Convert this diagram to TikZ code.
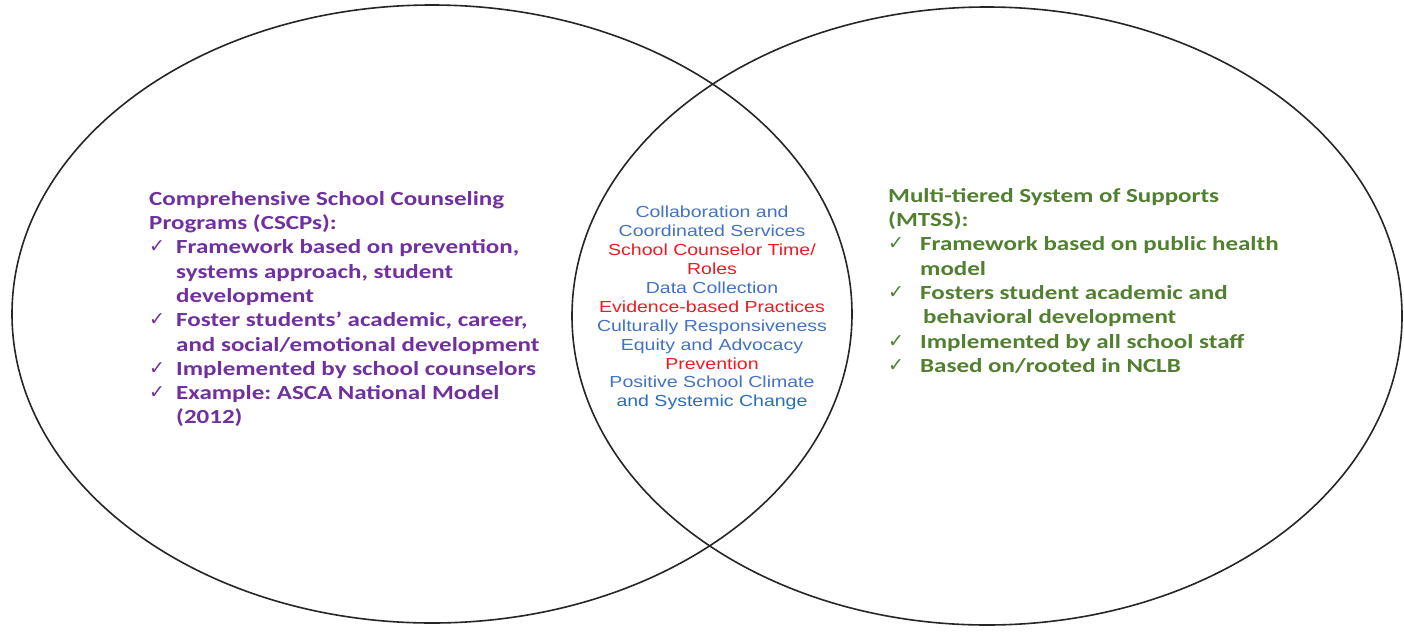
\documentclass[tikz,border=0pt]{standalone}
\usepackage{fontspec}
\usetikzlibrary{shapes.geometric}
\frenchspacing
\newfontfamily\calfont[FakeStretch=1.25]{Carlito}
\newfontfamily\arifont[FakeStretch=1.22]{Liberation Sans}
\newfontfamily\symfont{DejaVu Sans}
\definecolor{cpurple}{RGB}{112,48,160}
\definecolor{cgreen}{RGB}{80,128,48}
\definecolor{cblue}{RGB}{68,114,196}
\definecolor{cblue2}{RGB}{40,110,190}
\definecolor{cred}{RGB}{236,28,36}
\newcommand\chk{\makebox[27pt][l]{\raisebox{1pt}{\fontsize{19}{19}\symfont ✓}}}
\newcommand\ind{\hspace*{27pt}}
\tikzset{
  venn/.style={draw=black!85, line width=1.6pt},
  sidetext/.style={anchor=north west, inner sep=0pt, align=left,
    font=\calfont\bfseries\fontsize{20}{24.3}\selectfont},
  midtext/.style={anchor=north, inner sep=0pt, align=center,
    font=\arifont\fontsize{16}{18.9}\selectfont}
}
\begin{document}
\begin{tikzpicture}[x=1pt,y=-1pt]
\useasboundingbox[fill=white] (0,0) rectangle (1404,632);
\node[venn, ellipse, minimum width=840pt, minimum height=618pt, inner sep=0pt] (left) at (432,314) {};
\node[venn, ellipse, minimum width=830pt, minimum height=618pt, inner sep=0pt] (right) at (987,316) {};
\node[sidetext, text=cpurple] (cscp) at (149,191) {%
Comprehensive School Counseling\\
Programs (CSCPs):\\
\chk Framework based on prevention,\\
\ind systems approach, student\\
\ind development\\
\chk Foster students’ academic, career,\\
\ind and social/emotional development\\
\chk Implemented by school counselors\\
\chk Example: ASCA National Model\\
\ind (2012)};
\node[sidetext, text=cgreen] (mtss) at (888,188) {%
Multi-tiered System of Supports\\
(MTSS):\\
\chk\hspace*{5pt}Framework based on public health\\
\ind\hspace*{5pt}model\\
\chk\hspace*{5pt}Fosters student academic and\\
\ind\hspace*{8pt}behavioral development\\
\chk\hspace*{5pt}Implemented by all school staff\\
\chk\hspace*{5pt}Based on/rooted in NCLB};
\node[midtext] (shared) at (712,206) {%
\textcolor{cblue}{Collaboration and}\\
\textcolor{cblue}{Coordinated Services}\\
\textcolor{cred}{School Counselor Time/}\\
\textcolor{cred}{Roles}\\
\textcolor{cblue}{Data Collection}\\
\textcolor{cred}{Evidence-based Practices}\\
\textcolor{cblue}{Culturally Responsiveness}\\
\textcolor{cblue}{Equity and Advocacy}\\
\textcolor{cred}{Prevention}\\
\textcolor{cblue}{Positive School Climate}\\
\textcolor{cblue2}{and Systemic Change}};
\end{tikzpicture}
\end{document}
